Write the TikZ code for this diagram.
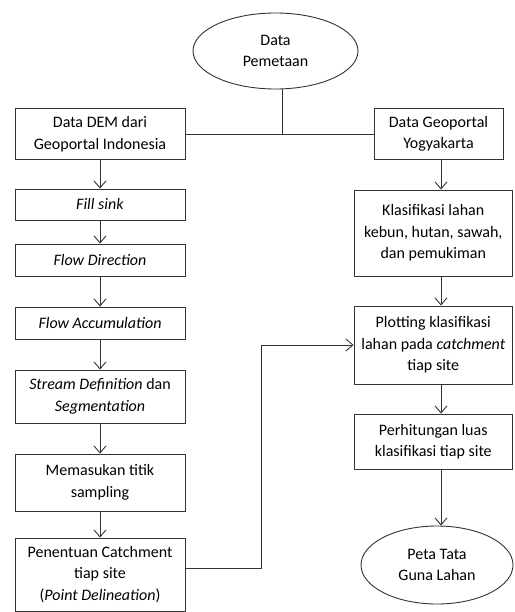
\documentclass[tikz,border=0pt]{standalone}
\usepackage{fontspec}
\setmainfont{Carlito}
\usetikzlibrary{shapes.geometric,arrows.meta}
\begin{document}
\begin{tikzpicture}[x=1pt,y=-1pt,
  line width=0.9pt,
  txt/.style={font=\fontsize{16}{21.5}\selectfont, text=black},
  box/.style={txt, draw=black!80, rectangle, inner sep=0pt, align=center},
  oval/.style={txt, draw=black!80, ellipse, inner sep=0pt, align=center},
  arr/.style={draw=black!80, -{Straight Barb[length=7pt,width=12pt]}},
  ln/.style={draw=black!80}]
\useasboundingbox (0,0) rectangle (514,612);
\fill[white] (0,0) rectangle (514,612);

% top
\node[oval, minimum width=165pt, minimum height=76pt] (pem) at (275.5,51) {Data\\Pemetaan};
\node[box, minimum width=170pt, minimum height=51pt] (dem) at (100,134) {Data DEM dari\\Geoportal Indonesia};
\node[box, minimum width=129pt, minimum height=51pt] (geo) at (438.5,134) {Data Geoportal\\Yogyakarta};

% left column
\node[box, minimum width=170pt, minimum height=31pt] (fill) at (100,204.5) {\textit{Fill sink}};
\node[box, minimum width=170pt, minimum height=32pt] (fdir) at (100,260) {\textit{Flow Direction}};
\node[box, minimum width=170pt, minimum height=32pt] (facc) at (100,323) {\textit{Flow Accumulation}};
\node[box, minimum width=170pt, minimum height=53pt] (stream) at (100,396.5) {\textit{Stream Definition} dan\\\textit{Segmentation}};
\node[box, minimum width=170pt, minimum height=57pt] (mem) at (100,482.5) {Memasukan titik\\sampling};
\node[box, minimum width=170pt, minimum height=73pt] (pen) at (100,574.5) {Penentuan Catchment\\tiap site\\(\textit{Point Delineation})};

% right column
\node[box, minimum width=158.5pt, minimum height=86pt] (kla) at (433.25,233) {Klasifikasi lahan\\kebun, hutan, sawah,\\dan pemukiman};
\node[box, minimum width=158.5pt, minimum height=78pt] (plot) at (433.25,345) {Plotting klasifikasi\\lahan pada \textit{catchment}\\tiap site};
\node[box, minimum width=158.5pt, minimum height=55pt] (perh) at (433.25,441.5) {Perhitungan luas\\klasifikasi tiap site};
\node[oval, minimum width=152pt, minimum height=78pt] (peta) at (437,565) {Peta Tata\\Guna Lahan};

% top connectors
\coordinate (jt) at (282,134);
\draw[ln] (pem.south -| jt) -- (jt);
\draw[ln] (dem.east) -- (geo.west);

% left arrows
\draw[arr] (dem.south) -- (fill.north);
\draw[arr] (fill.south) -- (fdir.north);
\draw[arr] (fdir.south) -- (facc.north);
\draw[arr] (facc.south) -- (stream.north);
\draw[arr] (stream.south) -- (mem.north);
\draw[arr] (mem.south) -- (pen.north);

% right arrows
\coordinate (rx) at (441,0);
\draw[arr] (geo.south -| rx) -- (kla.north -| rx);
\draw[arr] (kla.south -| rx) -- (plot.north -| rx);
\draw[arr] (plot.south -| rx) -- (perh.north -| rx);
\draw[arr] (perh.south -| rx) -- (peta.north -| rx);

% cross connector
\coordinate (jc) at (261,568);
\draw[arr] (pen.east |- jc) -- (jc) |- (plot.west);
\end{tikzpicture}
\end{document}
